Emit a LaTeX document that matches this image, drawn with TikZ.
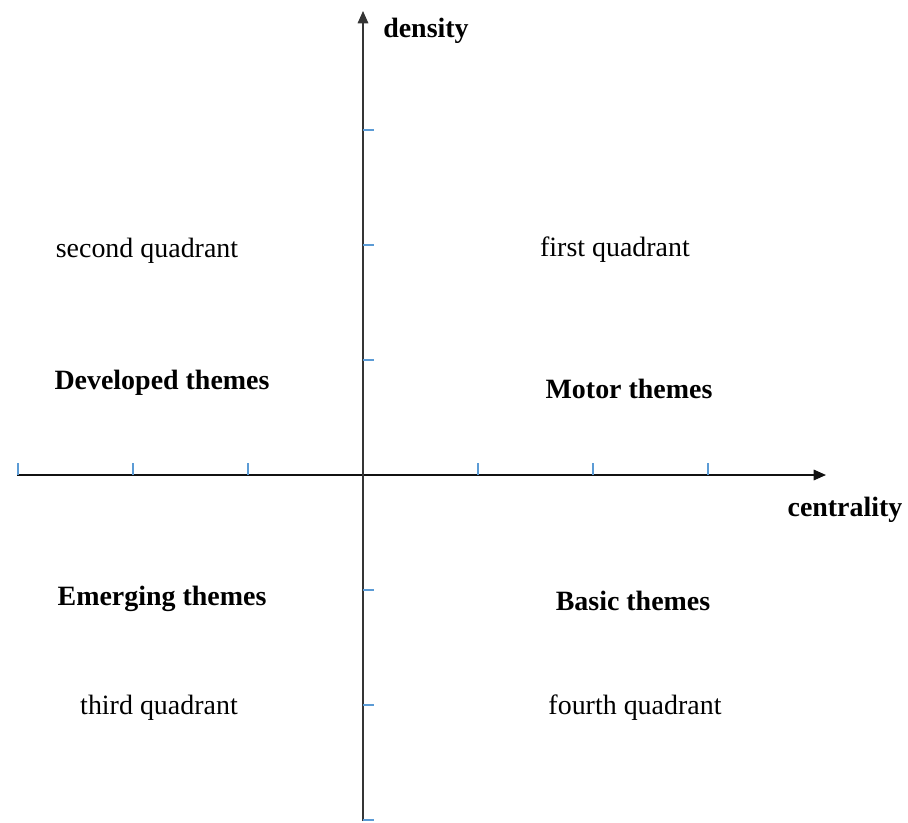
\documentclass[tikz,border=0pt]{standalone}
\usepackage{fontspec}
\setmainfont{Liberation Serif}
\usepackage{tikz}
\usetikzlibrary{positioning,arrows.meta}
\definecolor{ink}     {HTML}{111111}
\definecolor{tickblue}{HTML}{5B9BD5}
\tikzset{
  every node/.style={font=\fontsize{15.9}{19}\selectfont},
  % --- axes
  axis/.style  = {-{Triangle[length=7pt,width=6pt]}, line width=0.85pt, draw=ink},
  yaxis/.style = {axis, draw=ink!85},
  tck/.style   = {line width=1pt, draw=tickblue},
  % --- labels
  axlbl/.style = {font=\fontsize{15.9}{19}\selectfont\bfseries},
  quad/.style  = {font=\fontsize{15.9}{19}\selectfont},
  theme/.style = {font=\fontsize{15.9}{19}\selectfont\bfseries},
}
\begin{document}
\begin{tikzpicture}
  \useasboundingbox (-7.26,-6.94) rectangle (10.9,9.5);

  \coordinate (o) at (0,0);
  \coordinate (xs) at (-6.92,0);
  \coordinate (xe) at (9.26,0);
  \coordinate (ys) at (0,-6.92);
  \coordinate (ye) at (0,9.28);

  \draw[axis] (xs) -- (xe);
  \draw[yaxis] (ys) -- (ye);

  \foreach \t in {-6.9,-4.6,-2.3,2.3,4.6,6.9}
    \draw[tck] (\t,0) -- (\t,0.24);
  \foreach \t in {-6.9,-4.6,-2.3,2.3,4.6,6.9}
    \draw[tck] (0,\t) -- (0.22,\t);

  \node[axlbl] (ylbl) at (1.26,8.88) {density};
  \node[axlbl] (xlbl) at (9.64,-0.7) {centrality};

  \node[quad] (q2) at (-4.32,4.48) {second quadrant};
  \node[quad] (q1) at (5.04,4.5) {first quadrant};
  \node[quad] (q3) at (-4.08,-4.66) {third quadrant};
  \node[quad] (q4) at (5.44,-4.66) {fourth quadrant};

  \node[theme] (t2) at (-4.02,1.84) {Developed themes};
  \node[theme] (t1) at (5.32,1.72) {Motor themes};
  \node[theme] (t3) at (-4.02,-2.48) {Emerging themes};
  \node[theme] (t4) at (5.4,-2.52) {Basic themes};
\end{tikzpicture}
\end{document}
